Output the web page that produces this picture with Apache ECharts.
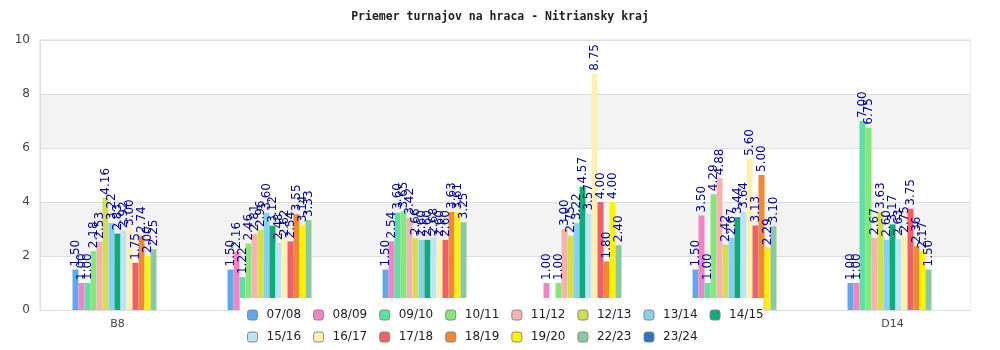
<!DOCTYPE html>
<html>
<head>
<meta charset="utf-8">
<script src="https://cdn.jsdelivr.net/npm/echarts@6/dist/echarts.min.js"></script>
<style>html,body{margin:0;padding:0;background:#fff}#c{width:1000px;height:350px}</style>
</head>
<body>
<div id="c"></div>
<script>
const categories = ['B8', 'B10', 'B12', 'D10', 'D12', 'D14'];
const seasons = ['07/08','08/09','09/10','10/11','11/12','12/13','13/14','14/15','15/16','16/17','17/18','18/19','19/20','22/23','23/24'];
const colors = ['#5fa8ec','#f283c4','#5ee0a2','#86e67a','#f5b3b0','#d2de4a','#86d2ee','#0fab7a','#bde3f7','#fdf0b0','#ef6068','#ef8a33','#fff200','#8ac8a4','#2f74c0'];
const s0708 = [1.50, 1.50, 1.50, null, 1.50, 1.00];
const s0809 = [1.00, 2.16, 2.54, 1.00, 3.50, 1.00];
const s0910 = [1.00, 1.22, 3.60, null, 1.00, 7.00];
const s1011 = [2.18, 2.46, 3.65, 1.00, 4.29, 6.75];
const s1112 = [2.53, 2.81, 3.42, 3.00, 4.88, 2.67];
const s1213 = [4.16, 2.96, 2.66, 2.75, 2.42, 3.63];
const s1314 = [3.22, 3.60, 2.60, 3.22, 2.67, 2.60];
const s1415 = [2.83, 3.12, 2.60, 4.57, 3.44, 3.17];
const s1516 = [2.92, 2.48, 2.68, 3.57, 3.64, 2.63];
const s1617 = [3.00, 2.62, 2.60, 8.75, 5.60, 2.75];
const s1718 = [1.75, 2.54, 2.60, 4.00, 3.13, 3.75];
const s1819 = [2.74, 3.55, 3.63, 1.80, 5.00, 2.36];
const s1920 = [2.00, 3.14, 3.61, 4.00, 2.29, 2.17];
const s2223 = [2.25, 3.33, 3.25, 2.40, 3.10, 1.50];
const s2324 = [null, null, null, null, null, null];
const seriesValues = [s0708,s0809,s0910,s1011,s1112,s1213,s1314,s1415,s1516,s1617,s1718,s1819,s1920,s2223,s2324];
const yTicks = {min: 0, max: 10, interval: 2};

const chart = echarts.init(document.getElementById('c'), null, {renderer: 'canvas'});
const legendCommon = {
  left: 240, orient: 'horizontal', itemWidth: 10, itemHeight: 10, itemGap: 12,
  backgroundColor: '#fff',
  itemStyle: {borderColor: '#888', borderWidth: 1},
  textStyle: {fontFamily: 'DejaVu Sans', fontSize: 12, color: '#222', lineHeight: 14, padding: [0, 0, 0, 4]},
  selectedMode: false
};
chart.setOption({
  animation: false,
  color: colors,
  title: {
    text: 'Priemer turnajov na hraca - Nitriansky kraj',
    left: 'center', top: 6,
    textStyle: {fontFamily: 'DejaVu Sans Mono', fontSize: 11.5, fontWeight: 'bold', color: '#222'}
  },
  legend: [
    Object.assign({}, legendCommon, {top: 298, padding: [10, 0, 3, 7], data: seasons.slice(0, 8)}),
    Object.assign({}, legendCommon, {top: 327, padding: [3, 7, 5, 7], data: seasons.slice(8)})
  ],
  grid: {left: 40, right: 30, top: 40, bottom: 40, show: true, borderColor: '#ddd', borderWidth: 1, backgroundColor: 'transparent'},
  xAxis: {
    type: 'category', data: categories,
    axisLine: {show: true, lineStyle: {color: '#ddd'}},
    axisTick: {show: false},
    axisLabel: {interval: 4, color: '#444', fontFamily: 'DejaVu Sans', fontSize: 11, margin: 9}
  },
  yAxis: {
    type: 'value', min: yTicks.min, max: yTicks.max, interval: yTicks.interval,
    axisLine: {show: true, lineStyle: {color: '#ddd'}},
    axisTick: {show: false},
    axisLabel: {color: '#444', fontFamily: 'DejaVu Sans', fontSize: 12, margin: 10},
    splitLine: {show: true, lineStyle: {color: '#ddd'}},
    splitArea: {show: true, areaStyle: {color: ['#ffffff', '#f3f3f3']}}
  },
  series: seasons.map((name, i) => ({
    name: name, type: 'bar', data: seriesValues[i],
    barWidth: 6, barGap: '0%',
    itemStyle: {color: colors[i]},
    label: {
      show: true, position: 'top', rotate: 90, align: 'left', verticalAlign: 'middle', distance: 3,
      color: '#00008b', fontFamily: 'DejaVu Sans', fontSize: 12,
      formatter: p => (p.value == null ? '' : Number(p.value).toFixed(2))
    }
  }))
});
</script>
</body>
</html>
